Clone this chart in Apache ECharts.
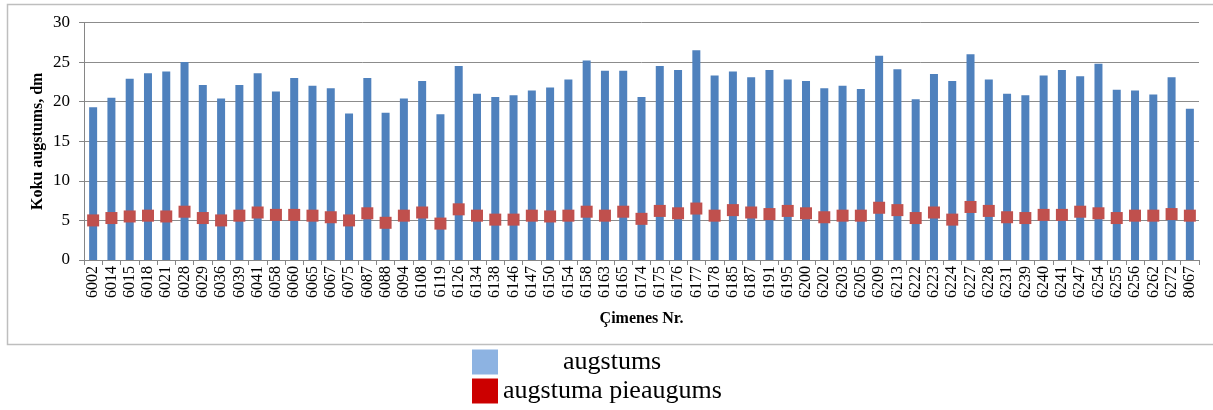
<!DOCTYPE html>
<html>
<head>
<meta charset="utf-8">
<script src="https://cdn.jsdelivr.net/npm/echarts@6/dist/echarts.min.js"></script>
<style>
  html, body { margin: 0; padding: 0; background: #fff; }
  #main { width: 1213px; height: 410px; }
</style>
</head>
<body>
<div id="main"></div>
<script>
var families = ['6002','6014','6015','6018','6021','6028','6029','6036','6039','6041',
  '6058','6060','6065','6067','6075','6087','6088','6094','6108','6119',
  '6126','6134','6138','6146','6147','6150','6154','6158','6163','6165',
  '6174','6175','6176','6177','6178','6185','6187','6191','6195','6200',
  '6202','6203','6205','6209','6213','6222','6223','6224','6227','6228',
  '6231','6239','6240','6241','6247','6254','6255','6256','6262','6272','8067'];

// augstums, dm
var height = [19.3,20.5,22.9,23.6,23.8,25.0,22.1,20.4,22.1,23.6,
  21.3,23.0,22.0,21.7,18.5,23.0,18.6,20.4,22.6,18.4,
  24.5,21.0,20.6,20.8,21.4,21.8,22.8,25.2,23.9,23.9,
  20.6,24.5,24.0,26.5,23.3,23.8,23.1,24.0,22.8,22.6,
  21.7,22.0,21.6,25.8,24.1,20.3,23.5,22.6,26.0,22.8,
  21.0,20.8,23.3,24.0,23.2,24.8,21.5,21.4,20.9,23.1,19.1];

// augstuma pieaugums
var increment = [5.0,5.3,5.5,5.6,5.5,6.1,5.3,5.0,5.6,6.0,
  5.7,5.7,5.6,5.4,5.0,5.9,4.7,5.6,6.0,4.6,
  6.4,5.6,5.1,5.1,5.6,5.5,5.6,6.1,5.6,6.1,
  5.2,6.2,5.9,6.5,5.6,6.3,6.0,5.8,6.2,5.9,
  5.4,5.6,5.6,6.6,6.3,5.3,6.0,5.1,6.7,6.2,
  5.4,5.3,5.7,5.7,6.1,5.9,5.3,5.6,5.6,5.8,5.6];

var serif = 'Liberation Serif';

var chart = echarts.init(document.getElementById('main'));
var option = {
  backgroundColor: '#fff',
  animation: false,
  graphic: [{
    type: 'rect',
    shape: { x: 7.5, y: 4.5, width: 1215, height: 340 },
    style: { fill: 'none', stroke: '#BEBEBE', lineWidth: 1.5 },
    silent: true
  }],
  legend: [{
    data: [{ name: 'augstums', itemStyle: { color: '#8DB3E2', opacity: 1 } }],
    left: 467, top: 344,
    icon: 'rect', itemWidth: 26, itemHeight: 25,
    textStyle: { fontFamily: serif, fontSize: 26, color: '#000', padding: [0, 0, 0, 60] }
  }, {
    data: [{ name: 'augstuma pieaugums', itemStyle: { color: '#CC0000', opacity: 1 } }],
    left: 467, top: 373,
    icon: 'rect', itemWidth: 26, itemHeight: 25,
    textStyle: { fontFamily: serif, fontSize: 26, color: '#000' }
  }],
  grid: { left: 84, right: 14, top: 22.5, bottom: 150 },
  xAxis: {
    type: 'category',
    data: families,
    name: 'Çimenes Nr.',
    nameLocation: 'middle',
    nameGap: 51,
    nameMoveOverlap: false,
    nameTextStyle: { fontFamily: serif, fontSize: 16, fontWeight: 'bold', color: '#000' },
    axisLine: { lineStyle: { color: '#868686' } },
    axisTick: { show: true, length: 5, lineStyle: { color: '#868686' } },
    axisLabel: { rotate: 90, interval: 0, margin: 6, fontFamily: serif, fontSize: 16, color: '#000' }
  },
  yAxis: {
    type: 'value',
    min: 0, max: 30, interval: 5,
    name: 'Koku augstums, dm',
    nameLocation: 'middle',
    nameGap: 38,
    nameMoveOverlap: false,
    nameTextStyle: { fontFamily: serif, fontSize: 16, fontWeight: 'bold', color: '#000' },
    axisLine: { show: true, lineStyle: { color: '#868686' } },
    axisTick: { show: true, length: 5, lineStyle: { color: '#868686' } },
    axisLabel: { margin: 14, fontFamily: serif, fontSize: 17, color: '#000' },
    splitLine: { lineStyle: { color: '#8C8C8C' } }
  },
  series: [{
    name: 'augstums',
    type: 'bar',
    data: height,
    barWidth: 8,
    itemStyle: { color: '#4F81BD' }
  }, {
    name: 'augstuma pieaugums',
    type: 'scatter',
    data: increment,
    symbol: 'rect',
    symbolSize: 12,
    itemStyle: { color: '#C0504D', opacity: 1 },
    z: 3
  }]
};
chart.setOption(option);
</script>
</body>
</html>
